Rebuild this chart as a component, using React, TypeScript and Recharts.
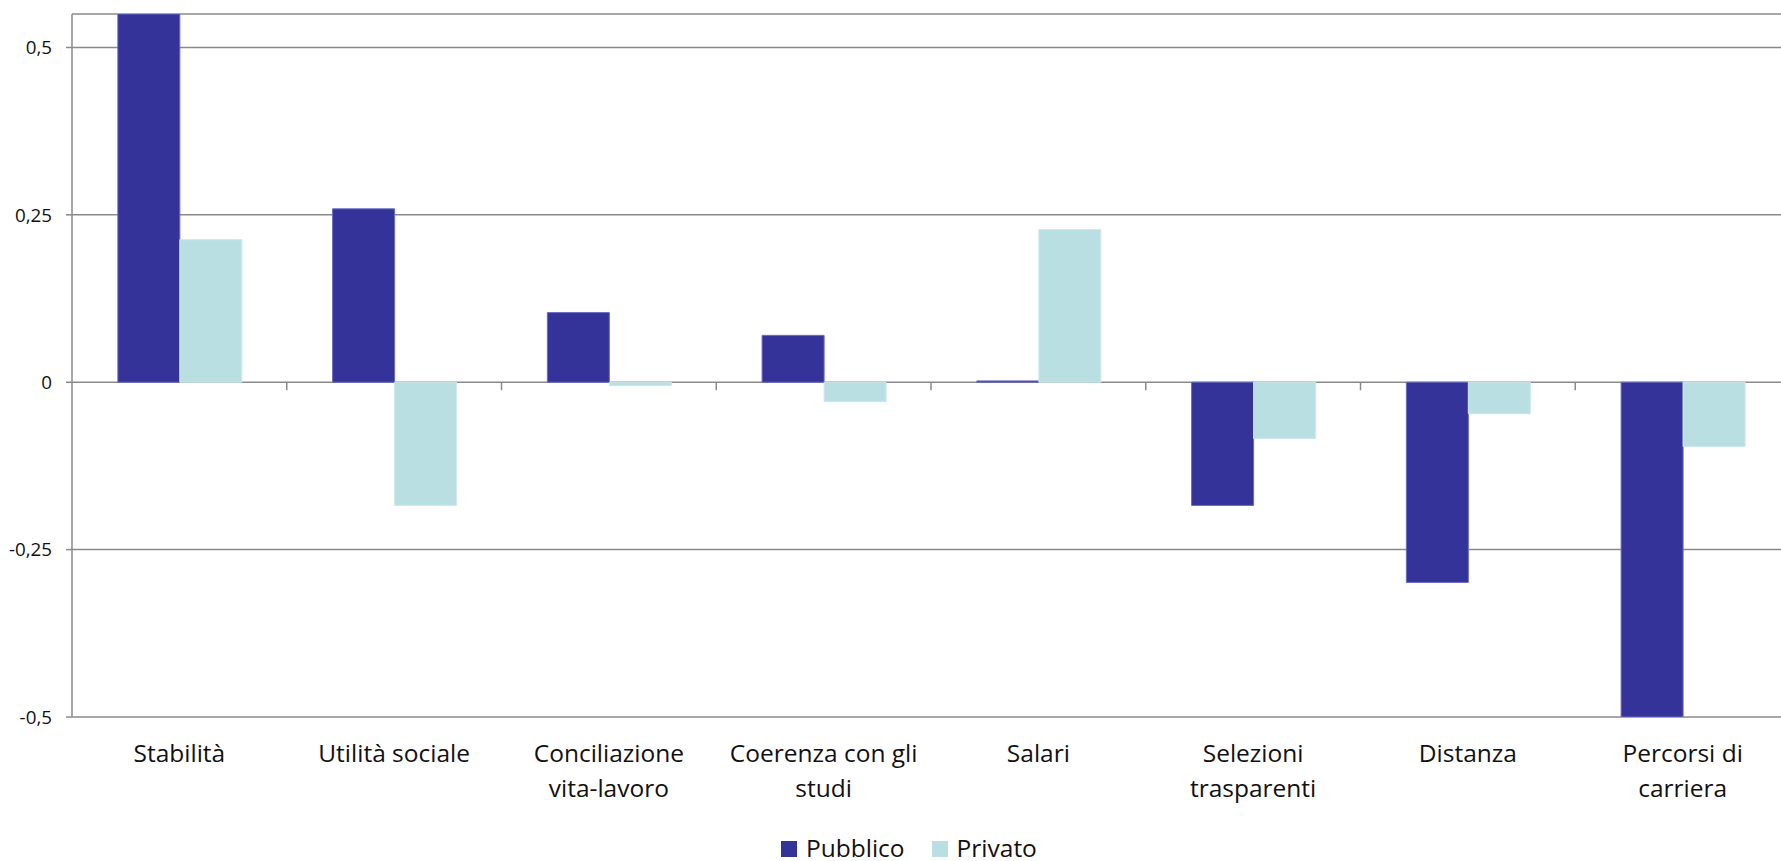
import { BarChart, Bar, XAxis, YAxis, CartesianGrid, Legend, ReferenceLine } from 'recharts';

const categories = [
  'Stabilità',
  'Utilità sociale',
  'Conciliazione\nvita-lavoro',
  'Coerenza con gli\nstudi',
  'Salari',
  'Selezioni\ntrasparenti',
  'Distanza',
  'Percorsi di\ncarriera',
];
const pubblico = [0.55, 0.259, 0.104, 0.07, 0.002, -0.184, -0.299, -0.5];
const privato = [0.213, -0.184, -0.005, -0.029, 0.228, -0.084, -0.047, -0.096];
const seriesOrder = ['Pubblico', 'Privato'];
const yTicks = [-0.5, -0.25, 0, 0.25, 0.5];

const data = categories.map((name, i) => ({
  name,
  pos: i + 0.5,
  Pubblico: pubblico[i],
  Privato: privato[i],
}));

// category boundaries, used for the small ticks hanging under the zero line
const boundaries = categories.slice(1).map((_, i) => i + 1);

const FONT = '"Open Sans", sans-serif';
const AXIS = '#8a8a8a';

const fmt = (v: number) => String(v).replace('.', ',');

function CategoryTick(props: any) {
  const { x, y, payload } = props;
  const lines = String(payload.value).split('\n');
  return (
    <text x={x} y={y + 45} textAnchor="middle" fontFamily={FONT} fontSize={24.5} fill="#111">
      {lines.map((l, i) => (
        <tspan key={i} x={x} dy={i === 0 ? 0 : 35}>
          {l}
        </tspan>
      ))}
    </text>
  );
}

function LegendContent(props: any) {
  const items = [...(props.payload || [])].sort(
    (a: any, b: any) => seriesOrder.indexOf(a.value) - seriesOrder.indexOf(b.value)
  );
  return (
    <div style={{ display: 'flex', fontFamily: FONT, fontSize: 24.5, lineHeight: '25px', color: '#111' }}>
      {items.map((it: any, i: number) => (
        <span
          key={it.value}
          style={{ display: 'inline-flex', alignItems: 'baseline', marginLeft: i === 0 ? 0 : 27 }}
        >
          <span style={{ display: 'inline-block', width: 16, height: 16, background: it.color, marginRight: 9 }} />
          {it.value}
        </span>
      ))}
    </div>
  );
}

export default function App() {
  return (
    <div style={{ position: 'fixed', left: 0, top: 0, width: 1781, height: 861, overflow: 'hidden', background: '#fff' }}>
      <BarChart
        width={1800}
        height={861}
        data={data}
        margin={{ top: 14, right: 10, left: 0, bottom: 0 }}
        barCategoryGap="21.35%"
        barGap={0}
      >
        <CartesianGrid vertical={false} stroke={AXIS} strokeWidth={1.5} />
        <XAxis
          dataKey="name"
          interval={0}
          height={144}
          axisLine={false}
          tickLine={false}
          tickSize={0}
          tickMargin={0}
          tick={<CategoryTick />}
        />
        <XAxis
          xAxisId="grid"
          dataKey="pos"
          type="number"
          scale="linear"
          domain={[0, 8]}
          allowDataOverflow
          hide
        />
        <YAxis
          width={72}
          domain={[-0.5, 0.55]}
          ticks={yTicks}
          interval={0}
          tickFormatter={fmt}
          tickSize={6}
          tickMargin={14}
          axisLine={{ stroke: AXIS, strokeWidth: 1.5 }}
          tickLine={{ stroke: AXIS, strokeWidth: 1.5 }}
          tick={{ fill: '#111', fontSize: 18.8, fontFamily: FONT }}
          allowDataOverflow
        />
        {boundaries.map((b) => (
          <ReferenceLine
            key={b}
            xAxisId="grid"
            segment={[
              { x: b, y: 0 },
              { x: b, y: -0.012 },
            ]}
            stroke={AXIS}
            strokeWidth={1.5}
          />
        ))}
        <Bar dataKey="Pubblico" fill="#333399" stroke="#6a6ac2" strokeWidth={1} isAnimationActive={false} />
        <Bar dataKey="Privato" fill="#badfe2" stroke="#cde9eb" strokeWidth={1} isAnimationActive={false} />
        <Legend
          layout="horizontal"
          verticalAlign="middle"
          align="center"
          content={<LegendContent />}
          wrapperStyle={{ top: 835, left: 781, width: 'auto' }}
        />
      </BarChart>
    </div>
  );
}
